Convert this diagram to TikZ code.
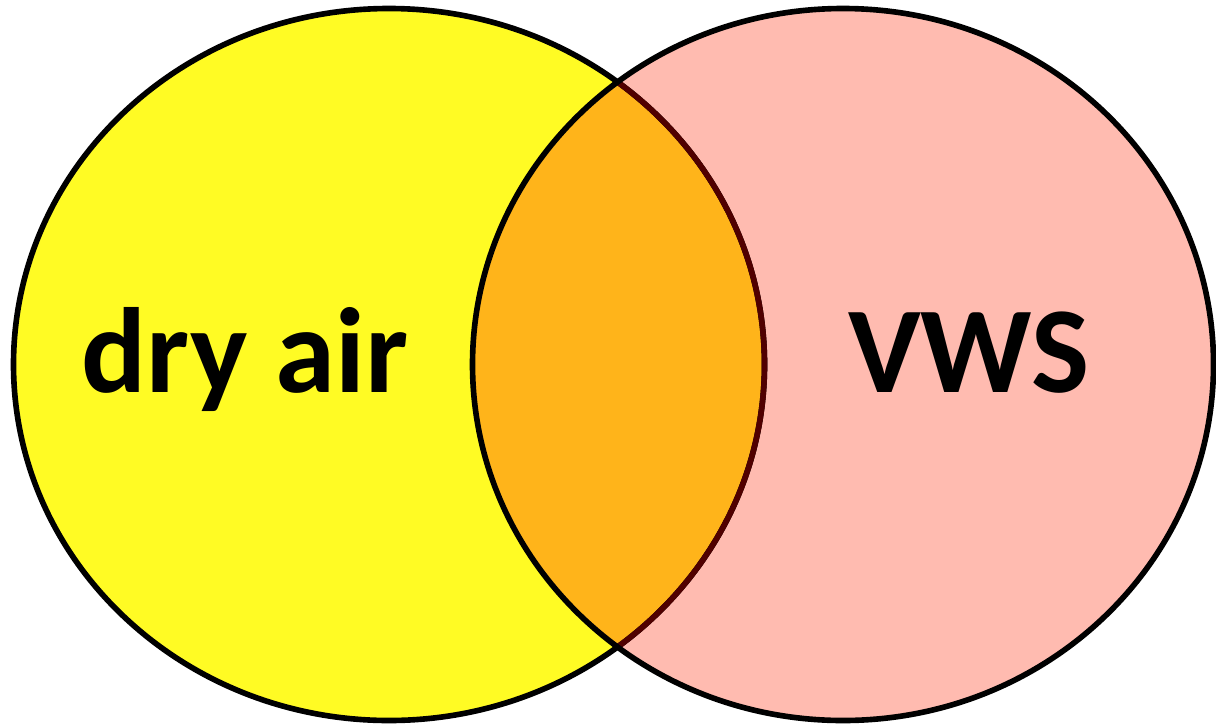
\documentclass[tikz,border=0pt]{standalone}
\usepackage{fontspec}
\setmainfont{Carlito}
\definecolor{airyellow}{RGB}{255,251,36}
\definecolor{vwspink}{RGB}{255,187,176}
\definecolor{mixorange}{RGB}{255,180,26}
\definecolor{darkrim}{RGB}{80,0,0}
\begin{document}
\begin{tikzpicture}[x=0.02cm, y=-0.02cm]
    % Fix the page size to the reference
    \useasboundingbox (0,0) rectangle (1216,727);

    % Fill both sets
    \fill[airyellow] (389,364.5) ellipse [x radius=375.5, y radius=356];
    \fill[vwspink] (843,364.5) ellipse [x radius=370.5, y radius=356];

    % Overlap region
    \begin{scope}
        \clip (389,364.5) ellipse [x radius=375.5, y radius=356];
        \fill[mixorange] (843,364.5) ellipse [x radius=370.5, y radius=356];
    \end{scope}

    % Outlines of the two sets
    \draw[black, line width=3.2pt] (389,364.5) ellipse [x radius=375.5, y radius=356];

    % Left rim inside the overlap is darker red
    \begin{scope}
        \clip (843,364.5) ellipse [x radius=370.5, y radius=356];
        \draw[darkrim, line width=3.2pt] (389,364.5) ellipse [x radius=375.5, y radius=356];
    \end{scope}
    \draw[black, line width=3.2pt] (843,364.5) ellipse [x radius=370.5, y radius=356];

    % Set labels
    \node[font=\fontsize{69}{76}\selectfont\bfseries, anchor=base] (dryair) at (245,392) {dry air};
    \node[font=\fontsize{70}{76}\selectfont\bfseries, anchor=base] (vws) at (969,392) {VWS};
\end{tikzpicture}
\end{document}
